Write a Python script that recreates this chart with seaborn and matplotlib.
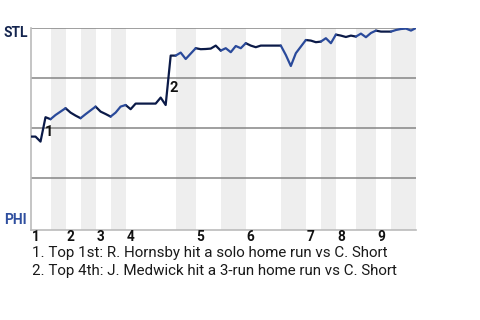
import matplotlib
matplotlib.use("Agg")
import matplotlib.pyplot as plt
import seaborn as sns
import pandas as pd
import numpy as np

# STL win probability per event (index 0..77)
wp = [0.457, 0.457, 0.432, 0.554, 0.544, 0.565, 0.582, 0.599, 0.577, 0.562,
      0.549, 0.569, 0.588, 0.607, 0.582, 0.570, 0.557, 0.577, 0.607, 0.615,
      0.594, 0.622, 0.622, 0.622, 0.622, 0.622, 0.652, 0.615, 0.862, 0.862,
      0.877, 0.845, 0.872, 0.899, 0.894, 0.895, 0.897, 0.912, 0.887, 0.899,
      0.879, 0.910, 0.899, 0.924, 0.912, 0.904, 0.912, 0.912, 0.912, 0.912,
      0.912, 0.865, 0.810, 0.874, 0.907, 0.940, 0.937, 0.929, 0.932, 0.949,
      0.924, 0.967, 0.962, 0.955, 0.962, 0.957, 0.972, 0.954, 0.975, 0.987,
      0.982, 0.982, 0.982, 0.990, 0.995, 0.997, 0.987, 1.000]

# half-inning boundaries (event index); even segments = top (STL bats), odd = bottom (PHI bats)
half_bounds = [0, 4, 7, 10, 13, 16, 19, 29, 33, 38, 43, 50, 55, 58, 61, 65, 69, 72, 77]
inning_labels = ["1", "2", "3", "4", "5", "6", "7", "8", "9"]

ann_ids = ["1", "2"]
ann_x = [3.6, 28.7]
ann_y = [0.48, 0.70]
notes = ["1. Top 1st: R. Hornsby hit a solo home run vs C. Short",
         "2. Top 4th: J. Medwick hit a 3-run home run vs C. Short"]

team_top = "STL"
team_bottom = "PHI"

rows = []
for h in range(len(half_bounds) - 1):
    a, b = half_bounds[h], half_bounds[h + 1]
    for i in range(a, b + 1):
        rows.append({"x": i, "wp": wp[i], "half": "top" if h % 2 == 0 else "bot", "seg": h})
df = pd.DataFrame(rows)

sns.set_style("white")
plt.rcParams["font.family"] = ["Roboto", "DejaVu Sans"]

fig = plt.figure(figsize=(4.8, 3.2), dpi=100)
ax = fig.add_axes([30.5 / 480, 1 - 230 / 320, (416 - 30.5) / 480, 202 / 320])

# shaded bottom halves
for h in range(1, len(half_bounds) - 1, 2):
    ax.axvspan(half_bounds[h], half_bounds[h + 1], color="#eeeeee", lw=0, zorder=0)

for yv in [0.25, 0.5, 0.75, 1.0]:
    ax.axhline(yv, color="#858585", lw=1.1, zorder=1)

sns.lineplot(data=df, x="x", y="wp", hue="half", units="seg", estimator=None,
             palette={"top": "#0b1a48", "bot": "#2a4a9b"}, lw=1.6, legend=False,
             ax=ax, zorder=3)

ax.set_xlim(0, 77)
ax.set_ylim(-0.01, 1.0)
ax.set_xticks([])
ax.set_yticks([])
ax.set_xlabel("")
ax.set_ylabel("")
for s in ["top", "right"]:
    ax.spines[s].set_visible(False)
for s in ["left", "bottom"]:
    ax.spines[s].set_color("#bbbbbb")
    ax.spines[s].set_linewidth(1.2)

for k, lab in enumerate(inning_labels):
    ax.text(half_bounds[2 * k] + 0.2, -0.047, lab, ha="left", va="center",
            fontsize=9.8, fontweight="bold", color="#111111", clip_on=False)

for lab, xx, yy in zip(ann_ids, ann_x, ann_y):
    ax.text(xx, yy, lab, ha="center", va="center", fontsize=10.5, fontweight="bold",
            color="#111111", zorder=4)

fig.text(27.5 / 480, 1 - 33 / 320, team_top, ha="right", va="center", fontsize=10,
         fontweight="bold", color="#14254f")
fig.text(27 / 480, 1 - 220.5 / 320, team_bottom, ha="right", va="center", fontsize=10,
         fontweight="bold", color="#2f4f9f")

for j, t in enumerate(notes):
    fig.text(31.5 / 480, 1 - (253.5 + 17.7 * j) / 320, t, ha="left", va="center",
             fontsize=10.9, color="#1a1a1a")

fig.savefig("out.png", dpi=100)
